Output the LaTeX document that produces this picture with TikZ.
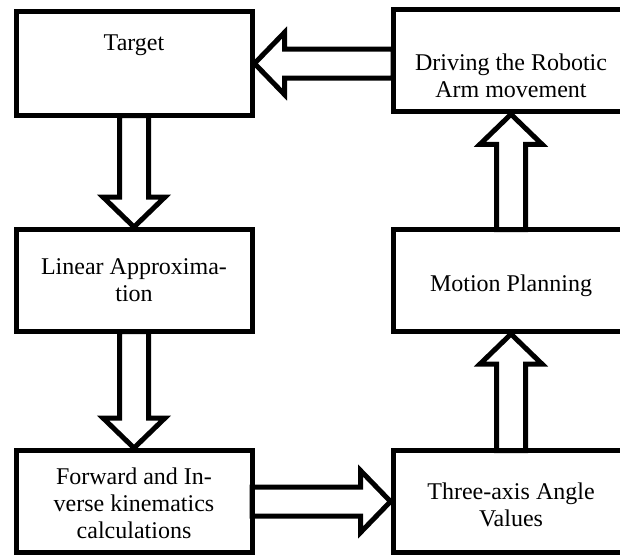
\documentclass[tikz,border=0pt]{standalone}
\usepackage{fontspec}
\setmainfont{Liberation Serif}
\usetikzlibrary{calc}
\pgfdeclarelayer{bg}
\pgfsetlayers{bg,main}
\tikzset{
  box/.style={draw=black, line width=5pt, minimum width=236pt, minimum height=102pt,
    outer sep=0pt, inner sep=0pt},
  lbl/.style={inner sep=0pt, align=center, font=\fontsize{24}{27}\selectfont},
  barrow/.style={draw=black, fill=white, line width=5pt, line join=miter, miter limit=10}
}
% #1 tail, #2 tip
\newcommand{\blockarrow}[2]{%
  \begin{pgfonlayer}{bg}
  \path[barrow] ($(#1)!14.5pt!90:(#2)$)
    -- ($($(#2)!30pt!(#1)$)!14.5pt!90:(#2)$)
    -- ($($(#2)!30pt!(#1)$)!31pt!90:(#2)$)
    -- (#2)
    -- ($($(#2)!30pt!(#1)$)!31pt!-90:(#2)$)
    -- ($($(#2)!30pt!(#1)$)!14.5pt!-90:(#2)$)
    -- ($(#1)!14.5pt!-90:(#2)$) -- cycle;
  \end{pgfonlayer}}
\begin{document}
\begin{tikzpicture}[x=1pt, y=-1pt]
\useasboundingbox (0,0) rectangle (620,555);
\clip (0,0) rectangle (620,555);
% boxes
\node[box, minimum height=104pt] (target) at (134,63.5) {};
\node[box] (driving) at (511,60.75) {};
\node[box] (linear) at (134,280.5) {};
\node[box] (motion) at (511,280.5) {};
\node[box] (forward) at (134,501.5) {};
\node[box] (three) at (511,501.5) {};
% texts
\node[lbl] (targetlbl) at (134,45) {Target};
\node[lbl] (drivinglbl) at (511,75.5) {Driving the Robotic\\Arm movement};
\node[lbl] (linearlbl) at (134,280.5) {Linear Approxima-\\tion};
\node[lbl] (motionlbl) at (511,285.5) {Motion Planning};
\node[lbl] (forwardlbl) at (134,503.5) {Forward and In-\\verse kinematics\\calculations};
\node[lbl] (threelbl) at (511,504.5) {Three-axis Angle\\Values};
% connectors
\coordinate (a1s) at (driving.west |- target.east);
\coordinate (a1e) at ($(target.east)+(2.5,0)$);
\blockarrow{a1s}{a1e}
\coordinate (a2s) at (target.south);
\coordinate (a2e) at ($(linear.north)+(0,-2.5)$);
\blockarrow{a2s}{a2e}
\coordinate (a3s) at (linear.south);
\coordinate (a3e) at ($(forward.north)+(0,-2.5)$);
\blockarrow{a3s}{a3e}
\coordinate (a4s) at (forward.east);
\coordinate (a4e) at ($(three.west)+(-2.5,0)$);
\blockarrow{a4s}{a4e}
\coordinate (a5s) at (three.north);
\coordinate (a5e) at ($(motion.south)+(0,2.5)$);
\blockarrow{a5s}{a5e}
\coordinate (a6s) at (motion.north);
\coordinate (a6e) at ($(driving.south)+(0,2.5)$);
\blockarrow{a6s}{a6e}
\end{tikzpicture}
\end{document}
